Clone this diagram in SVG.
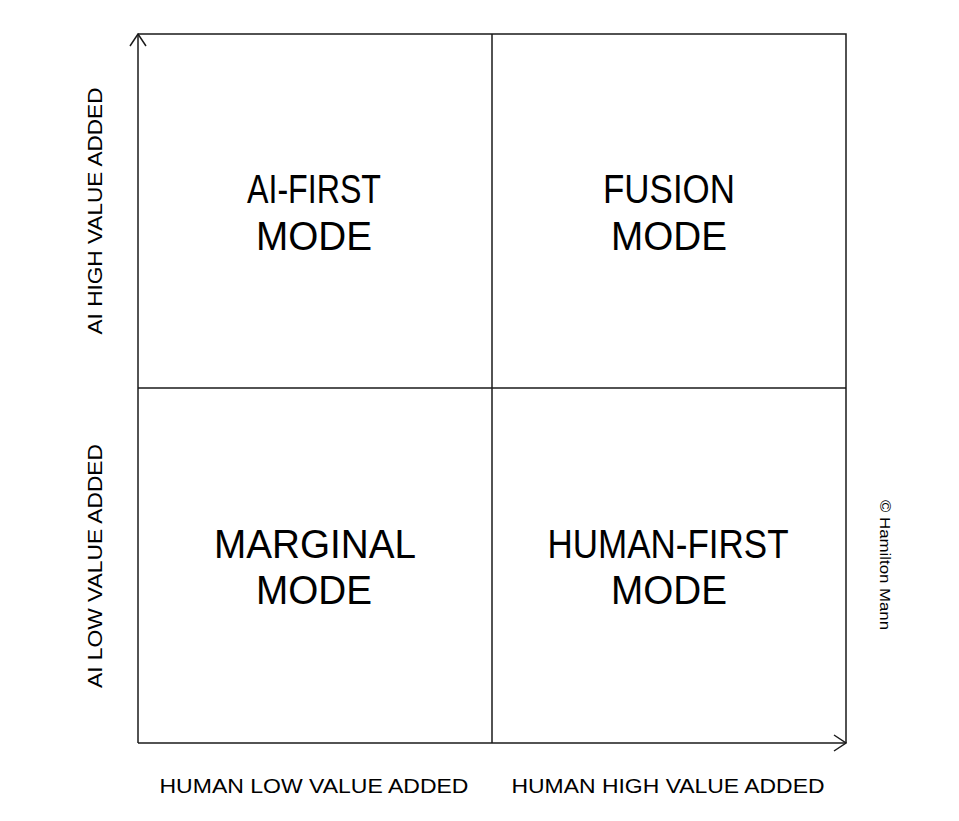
<svg xmlns="http://www.w3.org/2000/svg" width="959" height="821" viewBox="0 0 959 821">
<defs>
<style>
.ln{stroke:#1a1a1a;stroke-width:1.5;fill:none}
.q{font-family:"Liberation Sans",Arial,sans-serif;font-size:40px;fill:#000;text-anchor:middle}
.ax{font-family:"Liberation Sans",Arial,sans-serif;font-size:21px;fill:#000;text-anchor:middle}
.cp{font-family:"Liberation Sans",Arial,sans-serif;font-size:14px;fill:#000;text-anchor:middle}
</style>
<marker id="arr" viewBox="0 0 14 20" refX="13" refY="10" markerWidth="14" markerHeight="20" markerUnits="userSpaceOnUse" orient="auto">
<path d="M1,2 L13,10 L1,18" fill="none" stroke="#1a1a1a" stroke-width="1.5"/>
</marker>
</defs>
<rect width="959" height="821" fill="#fff"/>
<g id="connectors">
<line class="ln" x1="138" y1="743" x2="138" y2="34" marker-end="url(#arr)"/>
<line class="ln" x1="138" y1="743" x2="846" y2="743" marker-end="url(#arr)"/>
<polyline class="ln" points="138,34 846,34 846,743"/>
<line class="ln" x1="492" y1="34" x2="492" y2="743"/>
<line class="ln" x1="138" y1="388" x2="846" y2="388"/>
</g>
<g id="ai-first">
<text class="q" x="314" y="203" textLength="134" lengthAdjust="spacingAndGlyphs">AI-FIRST</text>
<text class="q" x="314" y="250" textLength="116" lengthAdjust="spacingAndGlyphs">MODE</text>
</g>
<g id="fusion">
<text class="q" x="669" y="203" textLength="132" lengthAdjust="spacingAndGlyphs">FUSION</text>
<text class="q" x="669" y="250" textLength="116" lengthAdjust="spacingAndGlyphs">MODE</text>
</g>
<g id="marginal">
<text class="q" x="315" y="558" textLength="202" lengthAdjust="spacingAndGlyphs">MARGINAL</text>
<text class="q" x="314" y="604" textLength="116" lengthAdjust="spacingAndGlyphs">MODE</text>
</g>
<g id="human-first">
<text class="q" x="668" y="558" textLength="241" lengthAdjust="spacingAndGlyphs">HUMAN-FIRST</text>
<text class="q" x="669" y="604" textLength="116" lengthAdjust="spacingAndGlyphs">MODE</text>
</g>
<g id="x-labels">
<text class="ax" x="314" y="793" textLength="309" lengthAdjust="spacingAndGlyphs">HUMAN LOW VALUE ADDED</text>
<text class="ax" x="668" y="793" textLength="313" lengthAdjust="spacingAndGlyphs">HUMAN HIGH VALUE ADDED</text>
</g>
<g id="y-labels">
<text class="ax" transform="translate(102,211) rotate(-90)" textLength="247" lengthAdjust="spacingAndGlyphs">AI HIGH VALUE ADDED</text>
<text class="ax" transform="translate(102,566) rotate(-90)" textLength="244" lengthAdjust="spacingAndGlyphs">AI LOW VALUE ADDED</text>
</g>
<g id="copyright">
<text class="cp" transform="translate(880,565) rotate(90)" textLength="130" lengthAdjust="spacingAndGlyphs">© Hamilton Mann</text>
</g>
</svg>
